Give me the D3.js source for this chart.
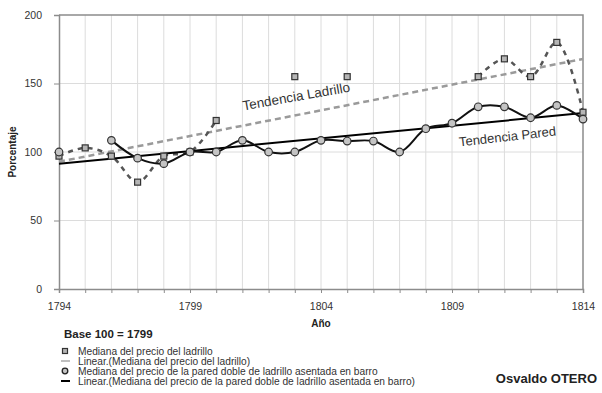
<!DOCTYPE html>
<html>
<head>
<meta charset="utf-8">
<script src="https://cdn.jsdelivr.net/npm/d3@7"></script>
<style>
  html, body { margin: 0; padding: 0; background: #fff; }
  svg { display: block; font-family: "Liberation Sans", Arial, Helvetica, sans-serif; }
</style>
</head>
<body>
<svg id="chart" width="602" height="393"></svg>
<script>
// Years on the horizontal axis
const years = [1794, 1795, 1796, 1797, 1798, 1799, 1800, 1801, 1802, 1803, 1804,
               1805, 1806, 1807, 1808, 1809, 1810, 1811, 1812, 1813, 1814];
// Median brick price (base 100 = 1799); null = no record that year
const brickMedian = [97, 103, 97, 78, 97, 100, 123, null, null, 155, null,
                     155, null, null, null, null, 155, 168, 155, 180, 129];
// Median price of a double brick wall laid in mud (base 100 = 1799)
const wallMedian = [100, null, 108.5, 95.5, 91.5, 100, 100, 108.5, 100, 100, 108.5,
                    108, 108, 100, 117, 121, 133, 133, 125, 134, 124];
const yTicks = [0, 50, 100, 150, 200];
const xLabelYears = [1794, 1799, 1804, 1809, 1814];
const legendLabels = [
  "Mediana del precio del ladrillo",
  "Linear.(Mediana del precio del ladrillo)",
  "Mediana del precio de la pared doble de ladrillo asentada en barro",
  "Linear.(Mediana del precio de la pared doble de ladrillo asentada en barro)"
];

const svg = d3.select("#chart");
const L = 59, R = 583, T = 15, B = 289;

const x = d3.scaleLinear().domain([1794, 1814]).range([L, R]);
const y = d3.scaleLinear().domain([0, 200]).range([B, T]);

// Gridlines
const grid = svg.append("g");
grid.selectAll("line.v").data(years.slice(1, -1)).join("line")
  .attr("x1", d => x(d)).attr("x2", d => x(d)).attr("y1", T).attr("y2", B)
  .attr("stroke", "#dcdcdc").attr("stroke-width", 1);
grid.selectAll("line.h").data(yTicks.slice(1, -1)).join("line")
  .attr("x1", L).attr("x2", R).attr("y1", d => y(d)).attr("y2", d => y(d))
  .attr("stroke", "#dcdcdc").attr("stroke-width", 1);

// Frame (top and right)
svg.append("path")
  .attr("d", `M${L},${T}H${R}V${B}`)
  .attr("fill", "none").attr("stroke", "#8c8c8c").attr("stroke-width", 1.5);

// Axes
const yAxis = d3.axisLeft(y).tickValues(yTicks).tickSize(5).tickPadding(12);
const gy = svg.append("g").attr("transform", `translate(${L},0)`).call(yAxis);
const xAxis = d3.axisBottom(x).tickValues(years).tickSize(4).tickPadding(10)
  .tickFormat(d => xLabelYears.includes(d) ? String(d) : "");
const gx = svg.append("g").attr("transform", `translate(0,${B})`).call(xAxis);
[gx, gy].forEach(g => {
  g.select(".domain").attr("stroke", "#8c8c8c").attr("stroke-width", 1.5);
  g.selectAll(".tick line").attr("stroke", "#8c8c8c");
  g.selectAll(".tick text").attr("fill", "#333").attr("font-size", 10.5)
    .attr("font-family", "\"Liberation Sans\", Arial, sans-serif");
});

// Axis titles
svg.append("text").attr("x", (L + R) / 2).attr("y", 327).attr("text-anchor", "middle")
  .attr("font-size", 10).attr("font-weight", "bold").attr("fill", "#222").text("Año");
svg.append("text").attr("transform", `translate(16,${(T + B) / 2}) rotate(-90)`)
  .attr("text-anchor", "middle").attr("font-size", 10).attr("font-weight", "bold")
  .attr("fill", "#222").text("Porcentaje");

// Least-squares trend over the available points
function trend(values) {
  const pts = years.map((yr, i) => [yr - years[0], values[i]]).filter(p => p[1] != null);
  const mx = d3.mean(pts, p => p[0]), my = d3.mean(pts, p => p[1]);
  const sxy = d3.sum(pts, p => (p[0] - mx) * (p[1] - my));
  const sxx = d3.sum(pts, p => (p[0] - mx) ** 2);
  const b = sxy / sxx, a = my - b * mx;
  return [years[0], years[years.length - 1]].map(yr => [yr, a + b * (yr - years[0])]);
}

const brickPts = years.map((yr, i) => [yr, brickMedian[i]]);
const wallPts = years.map((yr, i) => [yr, wallMedian[i]]);

const smooth = d3.line().defined(d => d[1] != null)
  .x(d => x(d[0])).y(d => y(d[1])).curve(d3.curveCatmullRom.alpha(0.5));
const straight = d3.line().x(d => x(d[0])).y(d => y(d[1]));

// Brick trend
svg.append("path").attr("d", straight(trend(brickMedian)))
  .attr("fill", "none").attr("stroke", "#9a9a9a").attr("stroke-width", 2.5)
  .attr("stroke-dasharray", "6,4");

// Brick series
svg.append("path").attr("d", smooth(brickPts))
  .attr("fill", "none").attr("stroke", "#555").attr("stroke-width", 2.5)
  .attr("stroke-dasharray", "5,5");

// Wall trend
svg.append("path").attr("d", straight(trend(wallMedian)))
  .attr("fill", "none").attr("stroke", "#000").attr("stroke-width", 2);

// Wall series
svg.append("path").attr("d", smooth(wallPts))
  .attr("fill", "none").attr("stroke", "#111").attr("stroke-width", 2);

// Markers
svg.append("g").selectAll("rect").data(brickPts.filter(d => d[1] != null)).join("rect")
  .attr("x", d => x(d[0]) - 3).attr("y", d => y(d[1]) - 3)
  .attr("width", 6).attr("height", 6)
  .attr("fill", "#b5b5b5").attr("stroke", "#333").attr("stroke-width", 1.2);
svg.append("g").selectAll("circle").data(wallPts.filter(d => d[1] != null)).join("circle")
  .attr("cx", d => x(d[0])).attr("cy", d => y(d[1])).attr("r", 3.8)
  .attr("fill", "#c4c4c4").attr("stroke", "#333").attr("stroke-width", 1.2);

// Trend annotations
svg.append("text").attr("transform", "translate(297,101) rotate(-10)")
  .attr("text-anchor", "middle").attr("font-size", 13.5).attr("fill", "#333")
  .text("Tendencia Ladrillo");
svg.append("text").attr("transform", "translate(508,141) rotate(-6.5)")
  .attr("text-anchor", "middle").attr("font-size", 13).attr("fill", "#333")
  .text("Tendencia Pared");

// Base note
svg.append("text").attr("x", 64).attr("y", 338).attr("font-size", 11.5)
  .attr("font-weight", "bold").attr("fill", "#222").text("Base 100 = 1799");

// Legend
const leg = svg.append("g").attr("font-size", 10.2).attr("fill", "#333");
const ly = [351, 361, 371, 381];
leg.append("rect").attr("x", 62.5).attr("y", ly[0] - 2.5).attr("width", 5).attr("height", 5)
  .attr("fill", "#b5b5b5").attr("stroke", "#333").attr("stroke-width", 1.2);
leg.append("line").attr("x1", 61).attr("x2", 70).attr("y1", ly[1]).attr("y2", ly[1])
  .attr("stroke", "#aaa").attr("stroke-width", 1.5);
leg.append("circle").attr("cx", 65).attr("cy", ly[2]).attr("r", 2.8)
  .attr("fill", "#c4c4c4").attr("stroke", "#222").attr("stroke-width", 1.3);
leg.append("line").attr("x1", 61).attr("x2", 70).attr("y1", ly[3]).attr("y2", ly[3])
  .attr("stroke", "#000").attr("stroke-width", 2);
leg.selectAll("text").data(legendLabels).join("text")
  .attr("x", 78).attr("y", (d, i) => ly[i] + 3.5).text(d => d);

// Author
svg.append("text").attr("x", 597).attr("y", 383).attr("text-anchor", "end")
  .attr("font-size", 13).attr("font-weight", "bold").attr("fill", "#222")
  .text("Osvaldo OTERO");
</script>
</body>
</html>
